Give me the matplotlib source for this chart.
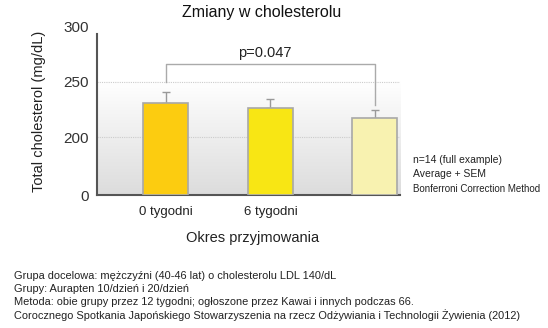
import matplotlib
matplotlib.use("Agg")
import matplotlib.pyplot as plt
import numpy as np

plt.rcParams["font.family"] = ["Liberation Sans", "DejaVu Sans"]

# data
categories = ["0 tygodni", "6 tygodni", ""]
means = [231, 226, 217]
sem = [10, 9, 8]
bar_colors = ["#FCCC10", "#F8E614", "#F8F2B0"]
yticks = [0, 200, 250, 300]
p_text = "p=0.047"

notes_right = ["n=14 (full example)", "Average + SEM", "Bonferroni Correction Method"]
notes_bottom = [
    "Grupa docelowa: mężczyźni (40-46 lat) o cholesterolu LDL 140/dL",
    "Grupy: Aurapten 10/dzień i 20/dzień",
    "Metoda: obie grupy przez 12 tygodni; ogłoszone przez Kawai i innych podczas 66.",
    "Corocznego Spotkania Japońskiego Stowarzyszenia na rzecz Odżywiania i Technologii Żywienia (2012)",
]


# broken axis: 0-200 squeezed, 200-300 stretched
def fwd(y):
    y = np.asarray(y, dtype=float)
    return np.where(y <= 200, y * 0.29, 58 + (y - 200) * 1.1)


def inv(t):
    t = np.asarray(t, dtype=float)
    return np.where(t <= 58, t / 0.29, 200 + (t - 58) / 1.1)


fig = plt.figure(figsize=(5.48, 3.28), dpi=100)
ax = fig.add_axes([0.177, 0.405, 0.553, 0.513])
ax.set_yscale("function", functions=(fwd, inv))
ax.set_ylim(0, 300)
ax.set_xlim(-0.66, 2.24)

# grey gradient background below the 250 line
frac = float(fwd(250) / fwd(300))
grad = np.linspace(0, 1, 256).reshape(-1, 1)
ax.imshow(grad, cmap=matplotlib.colors.LinearSegmentedColormap.from_list("g", ["#DCDCDC", "#FFFFFF"]),
          extent=[0, 1, 0, frac], transform=ax.transAxes, aspect="auto", zorder=0, origin="lower")

for yv in (200, 250):
    ax.axhline(yv, color="#CCCCCC", lw=0.8, ls=(0, (1, 1)), zorder=1)

x = np.arange(len(categories))
ax.bar(x, means, width=0.43, color=bar_colors, edgecolor="#A8A8A8", linewidth=1.2, zorder=3)
ax.errorbar(x, means, yerr=[np.zeros(len(sem)), sem], fmt="none", ecolor="#999999",
            elinewidth=1, capsize=3, capthick=1, zorder=2)

# significance bracket
ax.plot([0, 0, 2, 2], [250, 266, 266, 229], color="#AAAAAA", lw=1, zorder=4)
ax.text(0.95, 276, p_text, ha="center", va="center", fontsize=10.5, color="#222222")

ax.set_xticks(x)
ax.set_xticklabels(categories, fontsize=9.5, color="#222222")
ax.set_yticks(yticks)
ax.set_yticklabels([str(v) for v in yticks], fontsize=11, color="#333333")
ax.tick_params(length=0, pad=6)
ax.tick_params(axis="x", pad=8)
for s in ("top", "right"):
    ax.spines[s].set_visible(False)
ax.spines["left"].set_color("#555555")
ax.spines["left"].set_linewidth(1.5)
ax.spines["left"].set_bounds(0, 294)
ax.spines["bottom"].set_color("#555555")
ax.spines["bottom"].set_linewidth(1.5)

fig.text(0.478, 0.962, "Zmiany w cholesterolu", ha="center", va="center", fontsize=11.5, color="#111111")
ax.set_ylabel("Total cholesterol (mg/dL)", fontsize=10.5, color="#222222", labelpad=12)
fig.text(0.46, 0.275, "Okres przyjmowania", ha="center", va="center", fontsize=10.5, color="#222222")

for i, line in enumerate(notes_right):
    fig.text(0.754, 0.512 - i * 0.044, line, ha="left", va="center",
             fontsize=7.5 if i < 2 else 7, color="#222222")

for i, line in enumerate(notes_bottom):
    fig.text(0.026, 0.159 - i * 0.040, line, ha="left", va="center", fontsize=7.9, color="#222222")

fig.savefig("out.png", dpi=100)
